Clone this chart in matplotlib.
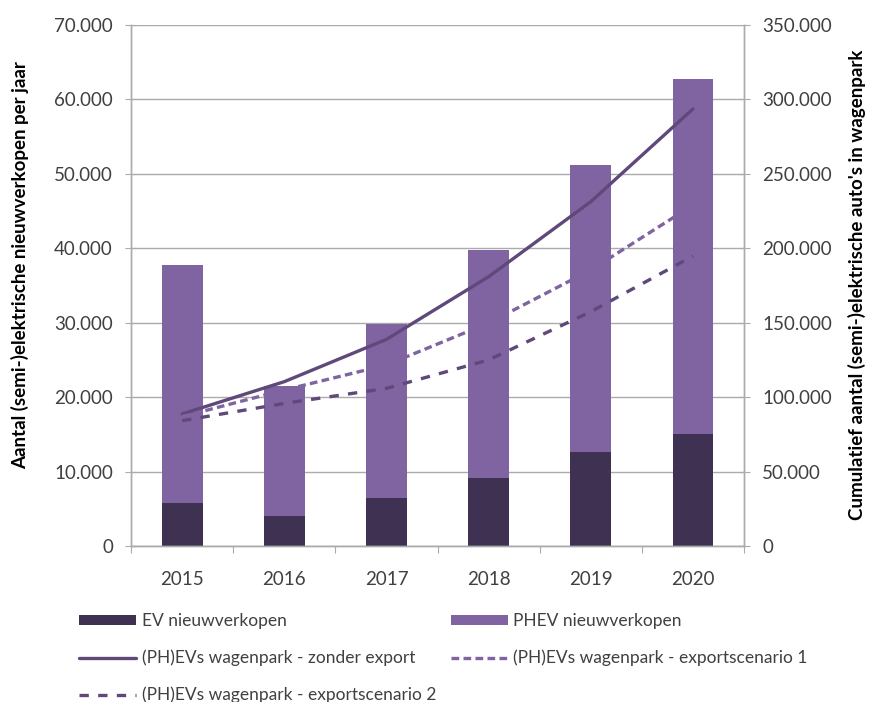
import numpy as np
import matplotlib
matplotlib.use("Agg")
import matplotlib.pyplot as plt
from matplotlib.ticker import FuncFormatter, FixedLocator

plt.rcParams['font.family'] = ['Lato', 'DejaVu Sans']

years = ['2015', '2016', '2017', '2018', '2019', '2020']
ev_sales = [5800, 4000, 6500, 9200, 12600, 15000]
total_sales = [37700, 21500, 29800, 39800, 51200, 62800]
phev_sales = [t - e for t, e in zip(total_sales, ev_sales)]

park_no_export = [88700, 110400, 138800, 180900, 231300, 293600]
park_scenario1 = [86900, 104800, 121600, 149800, 185400, 229000]
park_scenario2 = [84200, 95800, 105900, 125000, 157400, 194800]

ev_color = '#3F3151'
phev_color = '#8064A2'
line_dark = '#5F497A'
grid_color = '#ABABAB'
text_color = '#404040'


def dot_thousands(v, pos):
    return f"{v:,.0f}".replace(",", ".")


fig = plt.figure(figsize=(8.7, 7.02), dpi=100)
ax = fig.add_axes([0.1506, 0.2222, 0.7046, 0.7422])
ax2 = ax.twinx()

x = np.arange(len(years))
b1 = ax.bar(x, ev_sales, width=0.4, color=ev_color, zorder=2)
b2 = ax.bar(x, phev_sales, width=0.4, bottom=ev_sales, color=phev_color, zorder=2)

lw = 2.4
l1, = ax2.plot(x, park_no_export, color=line_dark, lw=lw, solid_capstyle='round')
l2, = ax2.plot(x, park_scenario1, color=phev_color, lw=lw, linestyle=(0, (2.3, 1.3)))
l3, = ax2.plot(x, park_scenario2, color=line_dark, lw=lw, linestyle=(0, (2.8, 2.8)))

ax.set_xlim(-0.5, 5.5)
ax.set_ylim(0, 70000)
ax2.set_ylim(0, 350000)
ax.set_yticks(np.arange(0, 70001, 10000))
ax2.set_yticks(np.arange(0, 350001, 50000))
ax.yaxis.set_major_formatter(FuncFormatter(dot_thousands))
ax2.yaxis.set_major_formatter(FuncFormatter(dot_thousands))

ax.xaxis.set_major_locator(FixedLocator(np.arange(-0.5, 6, 1)))
ax.xaxis.set_major_formatter(FuncFormatter(lambda v, p: ''))
ax.xaxis.set_minor_locator(FixedLocator(x))
ax.set_xticks(x, years, minor=True)
ax.tick_params(axis='x', which='minor', length=0, pad=18, labelsize=13.5, labelcolor=text_color)
ax.tick_params(axis='x', which='major', length=5, color=grid_color)
ax.tick_params(axis='y', length=8, direction='inout', color=grid_color, labelsize=13.5,
               labelcolor=text_color, pad=9)
ax2.tick_params(axis='y', length=8, direction='inout', color=grid_color, labelsize=13.5,
                labelcolor=text_color, pad=9)

ax.grid(axis='y', color=grid_color, lw=1, zorder=0)
ax.set_axisbelow(True)
for a in (ax, ax2):
    a.spines['top'].set_visible(False)
    for s in ('left', 'right', 'bottom'):
        a.spines[s].set_color(grid_color)
        a.spines[s].set_linewidth(1)

fig.text(20 / 870, 1 - 265 / 702, 'Aantal (semi-)elektrische nieuwverkopen per jaar',
         rotation=90, ha='center', va='center', fontsize=13.5, fontweight='bold')
fig.text(857 / 870, 1 - 285 / 702, "Cumulatief aantal (semi-)elektrische auto's in wagenpark",
         rotation=90, ha='center', va='center', fontsize=13.5, fontweight='bold')

handles = [b1, l1, l3, b2, l2]
labels = ['EV nieuwverkopen', '(PH)EVs wagenpark - zonder export',
          '(PH)EVs wagenpark - exportscenario 2', 'PHEV nieuwverkopen',
          '(PH)EVs wagenpark - exportscenario 1']
fig.legend(handles, labels, ncol=2, loc='upper left', bbox_to_anchor=(0.073, 0.149),
           frameon=False, fontsize=12.5, handlelength=3.3, handleheight=0.5,
           columnspacing=0.85, labelspacing=1.18, handletextpad=0.3,
           labelcolor=text_color)

fig.savefig('out.png', dpi=100)
